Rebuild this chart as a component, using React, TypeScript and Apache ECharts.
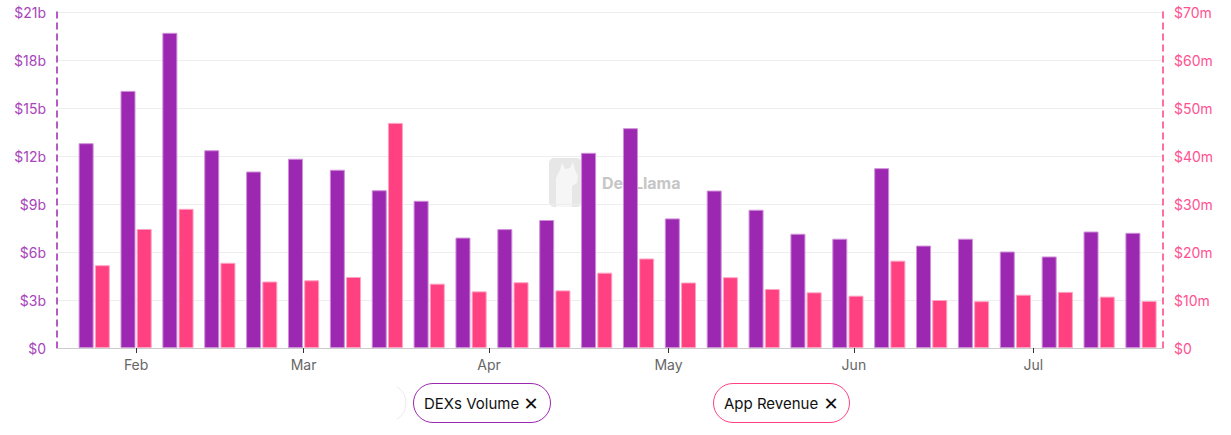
import React, { useEffect, useRef } from "react";
import * as echarts from "echarts";

const weekDates = [
  "2025-01-25", "2025-02-01", "2025-02-08", "2025-02-15", "2025-02-22",
  "2025-03-01", "2025-03-08", "2025-03-15", "2025-03-22", "2025-03-29",
  "2025-04-05", "2025-04-12", "2025-04-19", "2025-04-26", "2025-05-03",
  "2025-05-10", "2025-05-17", "2025-05-24", "2025-05-31", "2025-06-07",
  "2025-06-14", "2025-06-21", "2025-06-28", "2025-07-05", "2025-07-12",
  "2025-07-19",
];

// DEXs Volume, billions of USD
const dexVolume = [
  12.8, 16.07, 19.7, 12.36, 11.03, 11.83, 11.14, 9.86, 9.2, 6.9, 7.43, 8.0,
  12.2, 13.74, 8.1, 9.84, 8.64, 7.14, 6.83, 11.24, 6.4, 6.83, 6.03, 5.72,
  7.28, 7.2,
];

// App Revenue, millions of USD
const appRevenue = [
  17.25, 24.8, 29.0, 17.75, 13.85, 14.1, 14.8, 46.9, 13.4, 11.8, 13.7, 12.0,
  15.7, 18.65, 13.65, 14.75, 12.3, 11.6, 10.9, 18.2, 10.0, 9.75, 11.1, 11.7,
  10.7, 9.8,
];

const monthLabels = ["Jan", "Feb", "Mar", "Apr", "May", "Jun", "Jul", "Aug", "Sep", "Oct", "Nov", "Dec"];

const PURPLE = "#9c27b0";
const PINK = "#ff4081";
const FONT = 'Inter, "Noto Sans", "DejaVu Sans", sans-serif';

function toUTC(s: string) {
  const [y, m, d] = s.split("-").map(Number);
  return Date.UTC(y, m - 1, d);
}

export default function App() {
  const ref = useRef<HTMLDivElement>(null);

  useEffect(() => {
    if (!ref.current) return;
    const chart = echarts.init(ref.current, null, { renderer: "svg" });
    const xs = weekDates.map(toUTC);

    const option: any = {
      animation: false,
      useUTC: true,
      backgroundColor: "#ffffff",
      textStyle: { fontFamily: FONT },
      grid: { left: 57, right: 68, top: 12, bottom: 87, containLabel: false, outerBoundsMode: "none" },
      xAxis: {
        type: "time",
        min: Date.UTC(2025, 0, 21, 9, 13),
        max: Date.UTC(2025, 6, 20, 1, 40),
        splitNumber: 6,
        axisLine: { show: true, lineStyle: { color: "#cccccc", width: 1 } },
        axisTick: { show: true, length: 5, lineStyle: { color: "#333333", width: 1 } },
        axisLabel: {
          color: "#666666",
          fontSize: 14,
          fontFamily: FONT,
          margin: 9,
          showMinLabel: false,
          showMaxLabel: false,
          hideOverlap: false,
          formatter: (v: number) => monthLabels[new Date(v).getUTCMonth()],
        },
        splitLine: { show: false },
        minorTick: { show: false },
      },
      yAxis: [
        {
          type: "value",
          position: "left",
          min: 0,
          max: 21,
          interval: 3,
          axisLine: { show: true, lineStyle: { color: PURPLE, type: [6, 5], width: 1.5 } },
          axisTick: { show: false },
          axisLabel: {
            color: "#a845bb",
            fontSize: 14,
            fontFamily: FONT,
            margin: 11,
            formatter: (v: number) => (v === 0 ? "$0" : `$${v}b`),
          },
          splitLine: { show: true, lineStyle: { color: "#eeeeee", width: 1 } },
        },
        {
          type: "value",
          position: "right",
          min: 0,
          max: 70,
          interval: 10,
          axisLine: { show: true, lineStyle: { color: PINK, type: [6, 5], width: 1.5 } },
          axisTick: { show: false },
          axisLabel: {
            color: "#ff5291",
            fontSize: 14,
            fontFamily: FONT,
            margin: 11,
            formatter: (v: number) => (v === 0 ? "$0" : `$${v}m`),
          },
          splitLine: { show: false },
        },
      ],
      series: [
        {
          name: "DEXs Volume",
          type: "bar",
          yAxisIndex: 0,
          data: xs.map((x, i) => [x, dexVolume[i]]),
          barWidth: 15,
          barGap: "8%",
          itemStyle: { color: PURPLE, borderColor: "#cf8fd9", borderWidth: 1 },
          z: 5,
        },
        {
          name: "App Revenue",
          type: "bar",
          yAxisIndex: 1,
          data: xs.map((x, i) => [x, appRevenue[i]]),
          barWidth: 15,
          barGap: "8%",
          itemStyle: { color: PINK, borderColor: "#ffa3c4", borderWidth: 1 },
          z: 5,
        },
      ],
      graphic: [
        // watermark
        {
          type: "group",
          z: 0,
          silent: true,
          children: [
            {
              type: "rect",
              shape: { x: 549, y: 158, width: 33, height: 49, r: 5 },
              style: { fill: "#e3e3e3", opacity: 0.85 },
            },
            {
              type: "polygon",
              shape: {
                points: [
                  [556, 207], [556, 178], [560, 170], [562, 163], [565, 169],
                  [570, 168], [573, 162], [575, 170], [578, 176], [577, 183],
                  [572, 186], [572, 207],
                ],
              },
              style: { fill: "#f7f7f7", opacity: 0.9 },
            },
            {
              type: "text",
              x: 602,
              y: 183,
              style: {
                text: "DefiLlama",
                font: `bold 16px ${FONT}`,
                fill: "#c6c6c6",
                textAlign: "left",
                textVerticalAlign: "middle",
                align: "left",
                verticalAlign: "middle",
              },
            },
          ],
        },
        // ghost pill edge
        {
          type: "arc",
          z: 100,
          shape: { cx: 387, cy: 403, r: 19, startAngle: -Math.PI / 3, endAngle: Math.PI / 3 },
          style: { stroke: "#ececec", lineWidth: 1, fill: null },
        },
        // legend pills
        {
          type: "rect",
          z: 100,
          shape: { x: 413.5, y: 383.5, width: 137, height: 39, r: 19.5 },
          style: { fill: "#ffffff", stroke: PURPLE, lineWidth: 1 },
        },
        {
          type: "text",
          z: 101,
          x: 424,
          y: 403,
          style: {
            text: "DEXs Volume",
            font: `15px ${FONT}`,
            fill: "#111111",
            textAlign: "left",
            textVerticalAlign: "middle",
            align: "left",
            verticalAlign: "middle",
          },
        },
        {
          type: "text",
          z: 101,
          x: 531,
          y: 403,
          style: {
            text: "✕",
            font: `18px "DejaVu Sans", sans-serif`,
            fill: "#111111",
            textAlign: "center",
            textVerticalAlign: "middle",
            align: "center",
            verticalAlign: "middle",
          },
        },
        {
          type: "rect",
          z: 100,
          shape: { x: 713.5, y: 383.5, width: 136, height: 39, r: 19.5 },
          style: { fill: "#ffffff", stroke: PINK, lineWidth: 1 },
        },
        {
          type: "text",
          z: 101,
          x: 724,
          y: 403,
          style: {
            text: "App Revenue",
            font: `15px ${FONT}`,
            fill: "#111111",
            textAlign: "left",
            textVerticalAlign: "middle",
            align: "left",
            verticalAlign: "middle",
          },
        },
        {
          type: "text",
          z: 101,
          x: 831,
          y: 403,
          style: {
            text: "✕",
            font: `18px "DejaVu Sans", sans-serif`,
            fill: "#111111",
            textAlign: "center",
            textVerticalAlign: "middle",
            align: "center",
            verticalAlign: "middle",
          },
        },
      ],
    };

    chart.setOption(option);
    return () => chart.dispose();
  }, []);

  return (
    <div
      ref={ref}
      style={{ position: "fixed", left: 0, top: 0, width: 1231, height: 435, background: "#fff" }}
    />
  );
}
